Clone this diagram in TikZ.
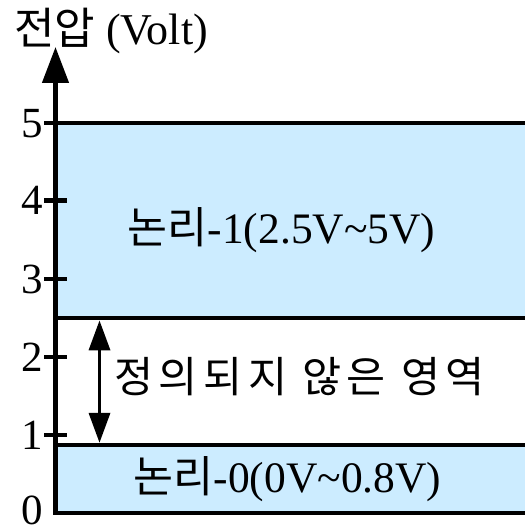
\documentclass[tikz,border=0pt]{standalone}
\usepackage{fontspec}
\setmainfont{Liberation Serif}
\newfontfamily\kr{Noto Sans CJK KR}
\newfontfamily\krsp[LetterSpace=13]{Noto Sans CJK KR}
\usetikzlibrary{arrows.meta}
\definecolor{zoneblue}{RGB}{204,236,255}
\tikzset{
  heavy/.style={line width=4.5pt},
  tickline/.style={line width=4.5pt},
  zone/.style={fill=zoneblue, draw=none},
  axisnum/.style={anchor=base east, inner sep=0pt, font=\fontsize{43}{48}\selectfont},
  lbl/.style={anchor=base, inner sep=0pt, font=\fontsize{43.5}{48}\selectfont},
}
\begin{document}
\begin{tikzpicture}[x=1pt,y=-1pt]
\useasboundingbox (0,0) rectangle (525,532);
% zones
\fill[zone] (55.5,123) rectangle (525,318);
\fill[zone] (55.5,445) rectangle (525,513);
% coordinates
\coordinate (axtop) at (55.5,47);
\coordinate (axbot) at (55.5,513);
\coordinate (axend) at (525,513);
\coordinate (l5a) at (44,123);   \coordinate (l5b) at (525,123);
\coordinate (lhia) at (55.5,318); \coordinate (lhib) at (525,318);
\coordinate (lloa) at (55.5,445); \coordinate (llob) at (525,445);
% level lines
\draw[heavy] (l5a) -- (l5b);
\draw[heavy] (lhia) -- (lhib);
\draw[heavy] (lloa) -- (llob);
% axis
\draw[heavy, line join=miter, {Triangle[width=26pt,length=36pt]}-] (axtop) -- (axbot) -- (axend);
% ticks
\foreach \v/\y in {1/435,2/357,3/279,4/200.7}{
  \coordinate (ta\v) at (44,\y);
  \coordinate (tb\v) at (67,\y);
  \draw[tickline] (ta\v) -- (tb\v);
}
% axis numbers
\node[axisnum] (n5) at (43.5,137) {5};
\node[axisnum] (n4) at (43.5,214.7) {4};
\node[axisnum] (n3) at (43.5,293) {3};
\node[axisnum] (n2) at (43.5,371) {2};
\node[axisnum] (n1) at (43.5,449) {1};
\node[axisnum] (n0) at (43.5,524) {0};
% title
\node[anchor=base west, inner sep=0pt, font=\fontsize{44}{48}\selectfont] (title) at (14,45) {{\kr 전압} (Volt)};
% labels
\node[lbl] (hi) at (281.5,243) {{\kr 논리}-1(2.5V\textasciitilde 5V)};
\node[lbl] (lo) at (287.5,492) {{\kr 논리}-0(0V\textasciitilde 0.8V)};
\node[lbl, font=\fontsize{42.5}{48}\krsp] (mid) at (299.5,392) {정의되지 않은 영역};
% double arrow
\coordinate (da) at (99.5,320.4);
\coordinate (db) at (99.5,442.8);
\draw[line width=3.5pt, {Triangle[width=21pt,length=30pt]}-{Triangle[width=21pt,length=30pt]}] (da) -- (db);
\end{tikzpicture}
\end{document}
